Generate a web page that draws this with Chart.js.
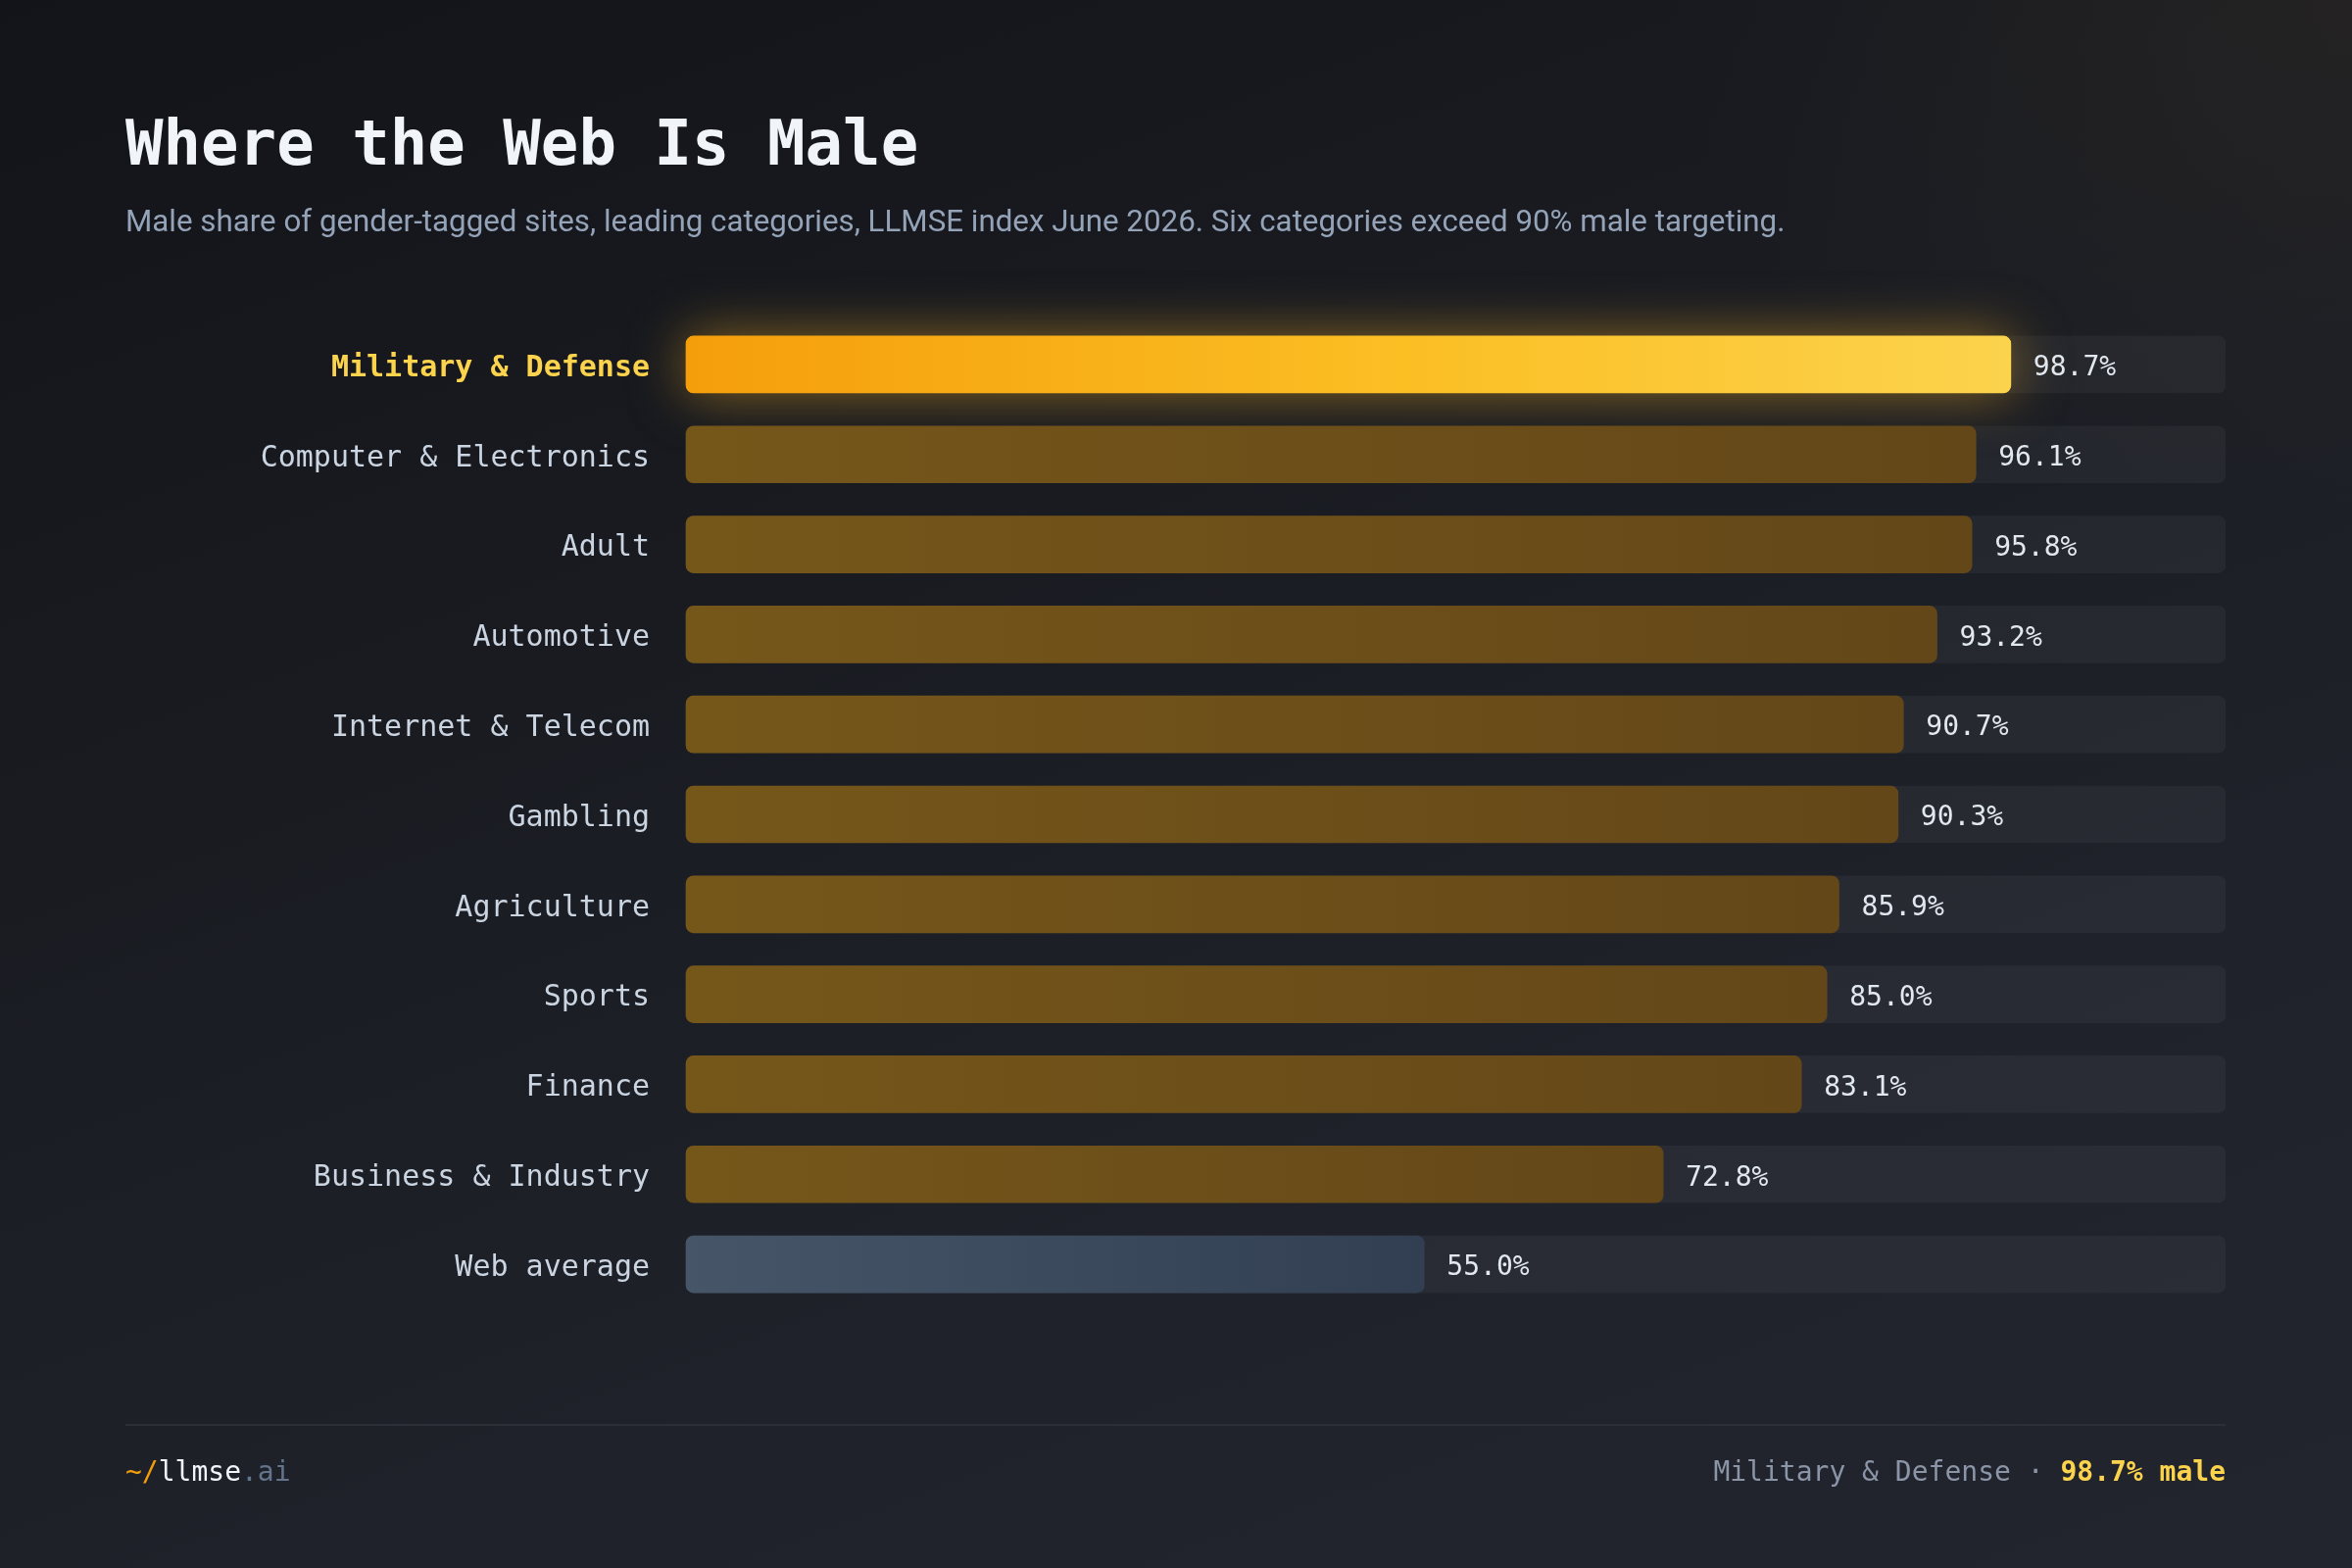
<!DOCTYPE html>
<html>
<head>
<meta charset="utf-8">
<title>Where the Web Is Male</title>
<script src="https://cdn.jsdelivr.net/npm/chart.js@4.4.1/dist/chart.umd.min.js"></script>
<style>
  html, body { margin: 0; padding: 0; }
  body {
    width: 2400px; height: 1600px; overflow: hidden; position: relative;
    background:
      radial-gradient(ellipse 1000px 750px at 100% 0%, rgba(95, 75, 45, 0.16), transparent 70%),
      linear-gradient(160deg, #121419 0%, #191b21 35%, #1f222a 70%, #22252d 100%);
    font-family: "DejaVu Sans Mono", monospace;
  }
  #myChart { position: absolute; left: 0; top: 0; }
  .title {
    position: absolute; left: 128px; top: 106px; line-height: 80px;
    font-size: 64px; font-weight: bold; color: #f1f5f9; white-space: nowrap;
  }
  .subtitle {
    position: absolute; left: 128px; top: 206px; line-height: 40px;
    font-family: Roboto, "Noto Sans", sans-serif; font-size: 31.3px; color: #94a3b8; white-space: nowrap;
  }
  .rule { position: absolute; left: 128px; top: 1453px; width: 2143px; height: 2px; background: #2b2f38; }
  .foot { position: absolute; top: 1482px; line-height: 40px; font-size: 28px; white-space: nowrap; }
  .foot.left { left: 128px; color: #f1f5f9; }
  .foot.right { right: 129px; color: #8b95a7; }
  .amber { color: #f59e0b; }
  .dim { color: #64748b; }
  .hi { color: #fcd34d; font-weight: bold; }
</style>
</head>
<body>
<canvas id="myChart" width="2400" height="1600"></canvas>
<div class="title">Where the Web Is Male</div>
<div class="subtitle">Male share of gender-tagged sites, leading categories, LLMSE index June 2026. Six categories exceed 90% male targeting.</div>
<div class="rule"></div>
<div class="foot left"><span class="amber">~/</span>llmse<span class="dim">.ai</span></div>
<div class="foot right">Military &amp; Defense · <span class="hi">98.7% male</span></div>
<script>
const categories = [
	"Military & Defense",
	"Computer & Electronics",
	"Adult",
	"Automotive",
	"Internet & Telecom",
	"Gambling",
	"Agriculture",
	"Sports",
	"Finance",
	"Business & Industry",
	"Web average",
];
const maleShare = [98.7, 96.1, 95.8, 93.2, 90.7, 90.3, 85.9, 85.0, 83.1, 72.8, 55.0];
const highlightIndex = 0;
const averageIndex = 10;
const axisMax = 114.7;
const track = categories.map(() => axisMax);

const monoFont = "'DejaVu Sans Mono', monospace";

function barFill(c) {
	const chart = c.chart;
	const area = chart.chartArea;
	if (!area || c.type !== "data") return "#725418";
	const end = chart.scales.x.getPixelForValue(c.raw);
	const g = chart.ctx.createLinearGradient(area.left, 0, end, 0);
	if (c.dataIndex === highlightIndex) {
		g.addColorStop(0, "#f59e0b");
		g.addColorStop(0.55, "#fbbf24");
		g.addColorStop(1, "#fcd34d");
	} else if (c.dataIndex === averageIndex) {
		g.addColorStop(0, "#465568");
		g.addColorStop(1, "#323f52");
	} else {
		g.addColorStop(0, "#76571a");
		g.addColorStop(1, "#634718");
	}
	return g;
}

// soft amber halo behind the leading bar
const glow = {
	id: "glow",
	beforeDatasetDraw(chart, args) {
		if (args.index !== 1) return;
		const el = args.meta.data[highlightIndex];
		const ctx = chart.ctx;
		ctx.save();
		ctx.shadowColor = "rgba(251, 180, 36, 0.5)";
		ctx.shadowBlur = 55;
		ctx.fillStyle = "#f8b01a";
		ctx.beginPath();
		ctx.roundRect(el.base, el.y - el.height / 2, el.x - el.base, el.height, 8);
		ctx.fill();
		ctx.restore();
	},
};

const valueLabels = {
	id: "valueLabels",
	afterDatasetsDraw(chart) {
		const meta = chart.getDatasetMeta(1);
		const ctx = chart.ctx;
		ctx.save();
		ctx.font = "28px " + monoFont;
		ctx.fillStyle = "#e2e8f0";
		ctx.textBaseline = "middle";
		meta.data.forEach((el, i) => {
			ctx.fillText(maleShare[i].toFixed(1) + "%", el.x + 23, el.y + 4);
		});
		ctx.restore();
	},
};

const ctx = document.getElementById("myChart");
const myChart = new Chart(ctx, {
	type: "bar",
	data: {
		labels: categories,
		datasets: [
			{
				data: track,
				backgroundColor: "rgba(255, 255, 255, 0.045)",
				borderRadius: 8,
				borderSkipped: false,
				barThickness: 58,
				grouped: false,
				order: 2,
			},
			{
				data: maleShare,
				backgroundColor: barFill,
				borderRadius: 8,
				borderSkipped: false,
				barThickness: 58,
				grouped: false,
				order: 1,
				clip: false,
			},
		],
	},
	options: {
		indexAxis: "y",
		responsive: false,
		animation: false,
		devicePixelRatio: 1,
		layout: {
			padding: { left: 0, right: 129, top: 326, bottom: 264 },
		},
		plugins: {
			legend: false,
			tooltip: { enabled: false },
		},
		scales: {
			x: {
				display: false,
				min: 0,
				max: axisMax,
			},
			y: {
				afterFit(scale) {
					scale.width = 700;
				},
				grid: { display: false, drawTicks: false },
				border: { display: false },
				ticks: {
					padding: 37,
					labelOffset: 4,
					color: (c) => (c.index === highlightIndex ? "#fcd34d" : "#cbd5e1"),
					font: (c) => ({
						family: monoFont,
						size: 30,
						weight: c.index === highlightIndex ? "bold" : "normal",
					}),
				},
			},
		},
	},
	plugins: [glow, valueLabels],
});
</script>
</body>
</html>
